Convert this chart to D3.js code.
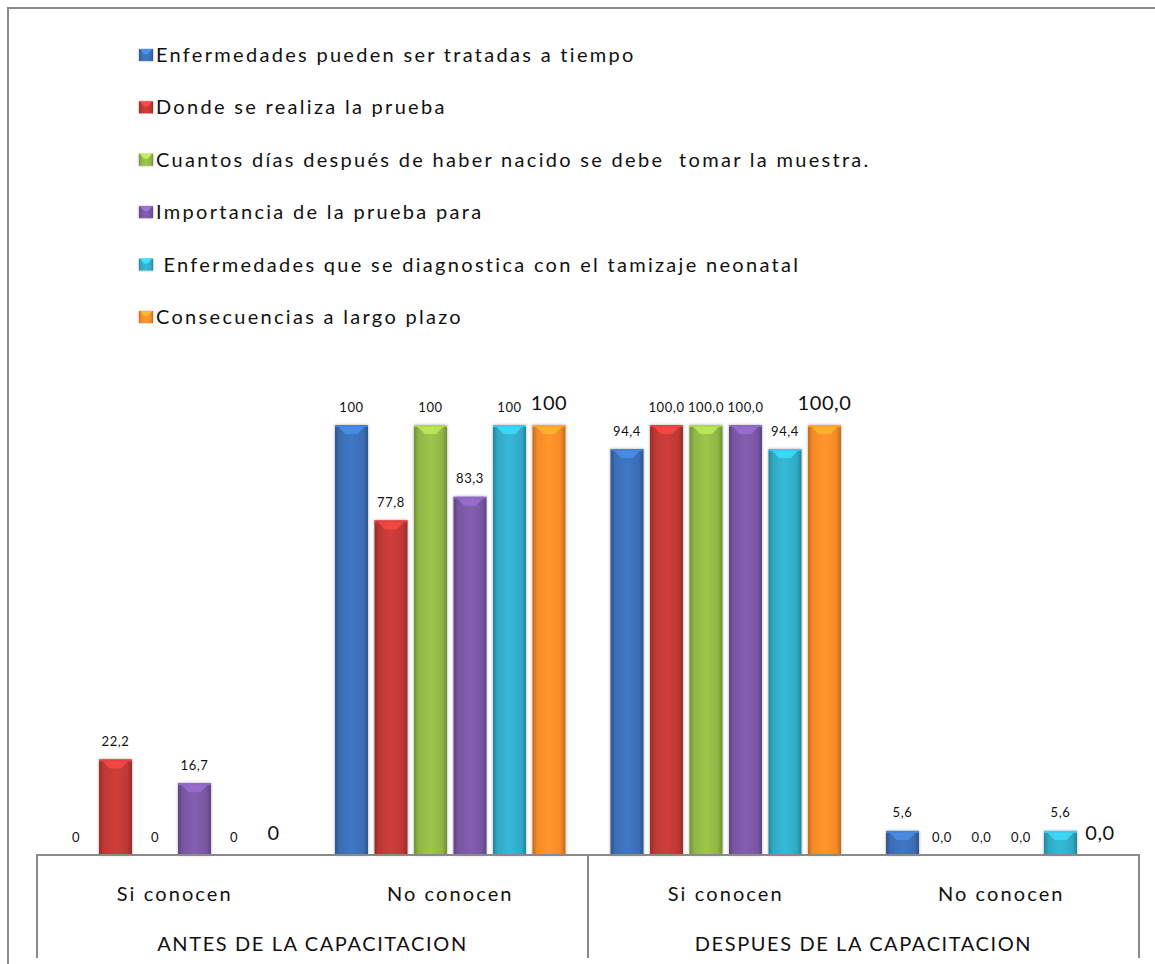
<!doctype html>
<html lang='es'>
<head>
    <meta charset='UTF-8'>
    <title>Tamizaje neonatal</title>
    <script src='https://cdn.jsdelivr.net/npm/d3@7/dist/d3.min.js'></script>
    <style>
        body { margin: 0; background: #fff; }
        text { font-family: Lato, 'Open Sans', sans-serif; fill: #111; }
    </style>
    <script>
        // datos
        periods = ['ANTES DE LA CAPACITACION', 'DESPUES DE LA CAPACITACION'];
        categories = ['Si conocen', 'No conocen', 'Si conocen', 'No conocen'];
        categoryPeriod = [0, 0, 1, 1];
        periodDecimals = [0, 1];   // antes: sin decimal fijo, despues: 1 decimal
        seriesNames = [
            'Enfermedades pueden ser tratadas a tiempo',
            'Donde se realiza la prueba',
            'Cuantos días después de haber nacido se debe  tomar la muestra.',
            'Importancia de la prueba para',
            ' Enfermedades que se diagnostica con el tamizaje neonatal',
            'Consecuencias a largo plazo'
        ];
        seriesColors = ['#3a6db4', '#be3835', '#90b545', '#7856a2', '#31a9c5', '#f48a27'];
        tratadas = [0, 100, 94.4, 5.6];
        donde = [22.2, 77.8, 100, 0];
        cuantosDias = [0, 100, 100, 0];
        importancia = [16.7, 83.3, 100, 0];
        diagnostica = [0, 100, 94.4, 5.6];
        consecuencias = [0, 100, 100, 0];
        seriesValues = [tratadas, donde, cuantosDias, importancia, diagnostica, consecuencias];

        W = 1155; H = 964;
        plot = { left: 37, right: 1139, base: 855, top: 425 };

        function fmt(v, period) {
            let s = periodDecimals[period] ? d3.format('.1f')(v) : d3.format('~r')(v);
            return s.replace('.', ',');
        }

        function draw() {
            let svg = d3.select('#chart').append('svg').attr('width', W).attr('height', H);
            let defs = svg.append('defs');
            seriesColors.forEach(function (c, i) {
                let dark = d3.color(c).darker(0.7), light = d3.color(c).brighter(0.25);
                let g = defs.append('linearGradient').attr('id', 'grad' + i).attr('x1', 0).attr('x2', 1).attr('y1', 0).attr('y2', 0);
                g.append('stop').attr('offset', '0%').attr('stop-color', dark);
                g.append('stop').attr('offset', '14%').attr('stop-color', c);
                g.append('stop').attr('offset', '50%').attr('stop-color', light);
                g.append('stop').attr('offset', '86%').attr('stop-color', c);
                g.append('stop').attr('offset', '100%').attr('stop-color', dark);
            });
            let blur = defs.append('filter').attr('id', 'soft').attr('x', '-20%').attr('y', '-5%').attr('width', '140%').attr('height', '110%');
            blur.append('feGaussianBlur').attr('in', 'SourceAlpha').attr('stdDeviation', 1.5).attr('result', 'b');
            blur.append('feComponentTransfer').attr('in', 'b').attr('result', 's')
                .append('feFuncA').attr('type', 'linear').attr('slope', 0.35);
            let m = blur.append('feMerge');
            m.append('feMergeNode').attr('in', 's');
            m.append('feMergeNode').attr('in', 'SourceGraphic');

            // marco exterior
            svg.append('path').attr('d', 'M8,' + H + 'V8H' + W)
                .attr('fill', 'none').attr('stroke', '#8a8a8a').attr('stroke-width', 2);

            let x0 = d3.scaleBand().domain(d3.range(categories.length)).range([plot.left, plot.right]);
            let x1 = d3.scaleBand().domain(d3.range(seriesNames.length)).range([0, x0.bandwidth()])
                .paddingInner(0.165).paddingOuter(0.57);
            let y = d3.scaleLinear().domain([0, 100]).range([plot.base, plot.top]);

            // barras
            let bars = svg.append('g');
            seriesValues.forEach(function (vals, s) {
                vals.forEach(function (v, c) {
                    if (v <= 0) return;
                    let bx = x0(c) + x1(s), bw = x1.bandwidth(), by = y(v), bh = y(0) - y(v);
                    let col = d3.color(seriesColors[s]);
                    let g = bars.append('g').attr('filter', 'url(#soft)');
                    g.append('rect').attr('x', bx).attr('y', by).attr('width', bw).attr('height', bh)
                        .attr('fill', 'url(#grad' + s + ')');
                    // bisel superior
                    let dep = Math.min(9, bh);
                    g.append('path')
                        .attr('d', 'M' + (bx + 2) + ',' + by + 'H' + (bx + bw - 2) +
                            'L' + (bx + bw / 2 + 6) + ',' + (by + dep) + 'H' + (bx + bw / 2 - 6) + 'Z')
                        .attr('fill', col.brighter(0.8)).attr('opacity', 0.75);
                    g.append('rect').attr('x', bx).attr('y', by).attr('width', bw).attr('height', 2)
                        .attr('fill', col.brighter(0.5));
                });
            });

            // etiquetas de datos
            let labels = svg.append('g');
            seriesValues.forEach(function (vals, s) {
                let big = s == seriesValues.length - 1;
                vals.forEach(function (v, c) {
                    labels.append('text')
                        .attr('x', x0(c) + x1(s) + x1.bandwidth() / 2)
                        .attr('y', y(v) - (big ? 15.5 : 13.5))
                        .attr('text-anchor', 'middle')
                        .style('font-size', big ? '20px' : '13px')
                        .style('letter-spacing', '0.6px')
                        .text(fmt(v, categoryPeriod[c]));
                });
            });

            // tabla del eje
            let axisCol = '#8a8a8a';
            let ax = svg.append('g').attr('stroke', axisCol).attr('stroke-width', 2).attr('fill', 'none');
            ax.append('line').attr('x1', plot.left - 1).attr('x2', plot.right + 1).attr('y1', plot.base).attr('y2', plot.base);
            [plot.left, x0(2), plot.right].forEach(function (xv) {
                ax.append('line').attr('x1', xv).attr('x2', xv).attr('y1', plot.base).attr('y2', 958);
            });
            categories.forEach(function (c, i) {
                svg.append('text').attr('x', x0(i) + x0.bandwidth() / 2).attr('y', 901)
                    .attr('text-anchor', 'middle').style('font-size', '20px').style('letter-spacing', '2.1px')
                    .text(c);
            });
            periods.forEach(function (p, i) {
                let cs = d3.range(categories.length).filter(function (k) { return categoryPeriod[k] == i; });
                let cx = (x0(cs[0]) + x0(cs[cs.length - 1]) + x0.bandwidth()) / 2;
                svg.append('text').attr('x', cx).attr('y', 951)
                    .attr('text-anchor', 'middle').style('font-size', '20px').style('letter-spacing', '1.6px')
                    .text(p);
            });

            // leyenda
            let leg = svg.append('g');
            seriesNames.forEach(function (n, i) {
                let ly = 55 + i * 52.4;
                let g = leg.append('g').attr('transform', 'translate(139,' + ly + ')');
                let col = d3.color(seriesColors[i]);
                g.append('rect').attr('x', 0).attr('y', -6).attr('width', 14).attr('height', 12)
                    .attr('fill', 'url(#grad' + i + ')').attr('filter', 'url(#soft)');
                g.append('path').attr('d', 'M1,-6H13L9,-1H5Z').attr('fill', col.brighter(0.8));
                g.append('text').attr('x', 17).attr('y', 7)
                    .style('font-size', '20px').style('letter-spacing', '2.3px')
                    .text(n).attr('xml:space', 'preserve').style('white-space', 'pre');
            });
        }

        window.onload = function () {
            draw();
        }
    </script>
</head>
<body>
    <div id='chart'></div>
</body>
</html>
